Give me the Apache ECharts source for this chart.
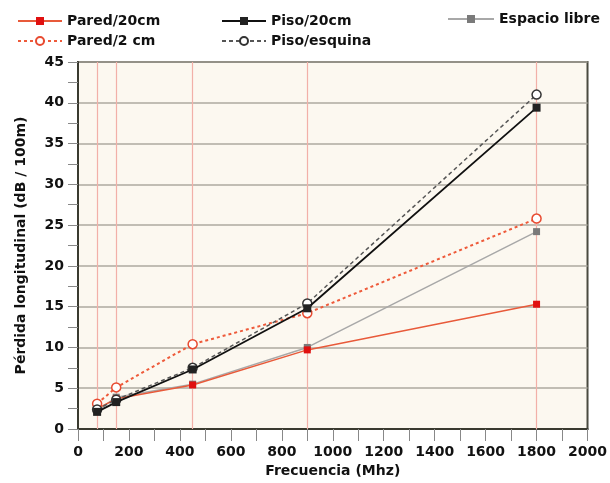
<!DOCTYPE html>
<html><head><meta charset="utf-8">
<script src="https://cdn.jsdelivr.net/npm/echarts@6/dist/echarts.min.js"></script>
<style>html,body{margin:0;padding:0;background:#fff}#c{width:610px;height:483px}</style>
</head><body><div id="c"></div>
<script>
const frequencies = [75, 150, 450, 900, 1800];
const paredVeinte = [2.5, 3.7, 5.4, 9.7, 15.3];
const paredDos = [3.1, 5.1, 10.4, 14.2, 25.8];
const pisoVeinte = [2.1, 3.3, 7.3, 14.8, 39.4];
const pisoEsquina = [2.4, 3.6, 7.5, 15.4, 41.0];
const espacioLibre = [2.2, 3.9, 5.5, 10.0, 24.2];
const xTicks = [0, 200, 400, 600, 800, 1000, 1200, 1400, 1600, 1800, 2000];
const yTicks = [0, 5, 10, 15, 20, 25, 30, 35, 40, 45];

const pair = arr => frequencies.map((f, i) => [f, arr[i]]);
const chart = echarts.init(document.getElementById('c'));
const font = 'DejaVu Sans';
const legendText = {fontFamily: font, fontWeight: 'bold', fontSize: 14, color: '#111'};

chart.setOption({
  animation: false,
  backgroundColor: '#fff',
  legend: [
    {left: 12, top: 9, orient: 'vertical', itemGap: 6, itemWidth: 44, itemHeight: 10, textStyle: legendText, data: ['Pared/20cm', 'Pared/2 cm']},
    {left: 216, top: 9, orient: 'vertical', itemGap: 6, itemWidth: 44, itemHeight: 10, textStyle: legendText, data: ['Piso/20cm', 'Piso/esquina']},
    {left: 442, top: 7, orient: 'vertical', itemWidth: 46, itemHeight: 10, textStyle: legendText, data: ['Espacio libre']}
  ],
  grid: {left: 78, right: 22, top: 62, bottom: 54, show: true, backgroundColor: '#fcf8f0', borderColor: '#4a4a40', borderWidth: 2},
  xAxis: {
    type: 'value', min: 0, max: 2000, interval: 200,
    name: 'Frecuencia (Mhz)', nameLocation: 'middle', nameGap: 28,
    nameTextStyle: {fontFamily: font, fontWeight: 'bold', fontSize: 14, color: '#111'},
    axisLine: {show: true, lineStyle: {color: '#3a3a30', width: 2}},
    axisTick: {show: true, length: 12, lineStyle: {color: '#888'}},
    minorTick: {show: true, splitNumber: 2, length: 12, lineStyle: {color: '#888'}},
    axisLabel: {margin: 16, fontFamily: font, fontWeight: 'bold', fontSize: 14, color: '#111',
      formatter: v => xTicks.includes(v) ? String(v) : ''},
    splitLine: {show: false}
  },
  yAxis: {
    type: 'value', min: 0, max: 45, interval: 5,
    name: 'Pérdida longitudinal (dB / 100m)', nameLocation: 'middle', nameGap: 50,
    nameTextStyle: {fontFamily: font, fontWeight: 'bold', fontSize: 14, color: '#111'},
    axisLine: {show: true, lineStyle: {color: '#3a3a30', width: 2}},
    axisTick: {show: true, length: 10, lineStyle: {color: '#888'}},
    minorTick: {show: true, splitNumber: 2, length: 10, lineStyle: {color: '#888'}},
    axisLabel: {margin: 14, fontFamily: font, fontWeight: 'bold', fontSize: 14, color: '#111',
      formatter: v => yTicks.includes(v) ? String(v) : ''},
    splitLine: {show: true, lineStyle: {color: '#aeaaa0', width: 1.5}}
  },
  series: [
    {name: 'Espacio libre', type: 'line', data: pair(espacioLibre), z: 2,
      lineStyle: {color: '#a8a8a8', width: 1.5}, itemStyle: {color: '#7a7a7a'},
      symbol: 'rect', symbolSize: 7,
      markLine: {silent: true, symbol: 'none', label: {show: false}, z: 1,
        lineStyle: {color: '#f2b0a8', type: 'solid', width: 1.2},
        data: frequencies.map(f => ({xAxis: f}))}},
    {name: 'Pared/20cm', type: 'line', data: pair(paredVeinte), z: 3,
      lineStyle: {color: '#e85a3a', width: 1.5}, itemStyle: {color: '#e01010'},
      symbol: 'rect', symbolSize: 7},
    {name: 'Pared/2 cm', type: 'line', data: pair(paredDos), z: 4,
      lineStyle: {color: '#ee5a3a', width: 2, type: [3, 3]}, itemStyle: {color: '#fff', borderColor: '#e84a30', borderWidth: 1.5},
      symbol: 'circle', symbolSize: 9},
    {name: 'Piso/20cm', type: 'line', data: pair(pisoVeinte), z: 5,
      lineStyle: {color: '#111', width: 1.8}, itemStyle: {color: '#222'},
      symbol: 'rect', symbolSize: 8},
    {name: 'Piso/esquina', type: 'line', data: pair(pisoEsquina), z: 4,
      lineStyle: {color: '#555', width: 1.5, type: [4, 3]}, itemStyle: {color: '#fff', borderColor: '#333', borderWidth: 1.5},
      symbol: 'circle', symbolSize: 9}
  ]
});
</script></body></html>
